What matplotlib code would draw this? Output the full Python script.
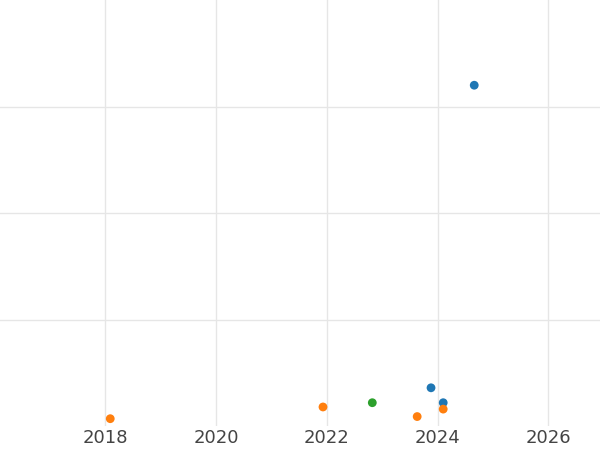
import matplotlib
matplotlib.use("Agg")
from matplotlib import pyplot as plt

# values (y in arbitrary units, no labels shown)
blue_x = [2024.66, 2023.88, 2024.10]
blue_y = [3.20, 0.36, 0.22]
orange_x = [2018.09, 2021.93, 2023.63, 2024.10]
orange_y = [0.07, 0.18, 0.09, 0.16]
green_x = [2022.82]
green_y = [0.22]
xticks = [2018, 2020, 2022, 2024, 2026]

fig = plt.figure(figsize=(6, 4.5), dpi=100)
ax = fig.add_axes([0, 0.053, 1, 0.947])

ax.scatter(blue_x, blue_y, color='#1f77b4', s=40, zorder=3, edgecolors='none')
ax.scatter(orange_x, orange_y, color='#ff7f0e', s=40, zorder=3, edgecolors='none')
ax.scatter(green_x, green_y, color='#2ca02c', s=40, zorder=3, edgecolors='none')

ax.set_xlim(2016.1, 2026.93)
ax.set_ylim(0, 4)
ax.set_xticks(xticks)
ax.set_xticklabels([str(t) for t in xticks])
ax.set_yticks([1, 2, 3])
ax.set_yticklabels([])
ax.grid(True, color='#e6e6e6', linewidth=1)
ax.tick_params(length=0, labelsize=13, labelcolor='#444444', pad=2)
for s in ax.spines.values():
    s.set_visible(False)

fig.savefig('out.png')
